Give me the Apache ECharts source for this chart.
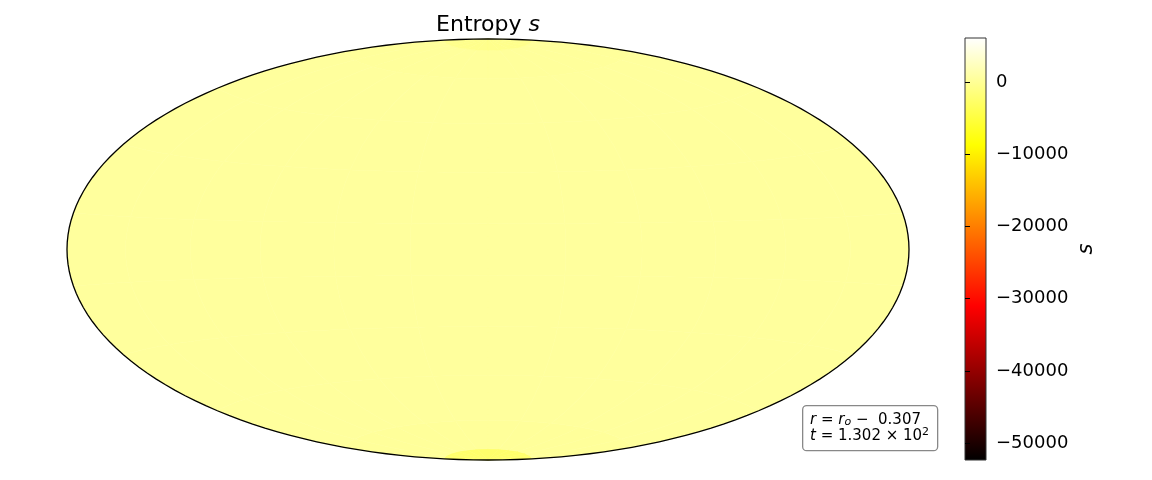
<!DOCTYPE html>
<html>
<head>
<meta charset="utf-8">
<script src="https://cdn.jsdelivr.net/npm/echarts@6/dist/echarts.min.js"></script>
<style>
html, body { margin: 0; padding: 0; background: #fff; }
#main { width: 1152px; height: 480px; }
</style>
</head>
<body>
<div id="main"></div>
<script>
// entropy field on the sphere, nearly uniform
var lonEdges = [-180, -150, -120, -90, -60, -30, 0, 30, 60, 90, 120, 150, 180];
var latEdges = [-90, -84, -70, -50, -30, -10, 10, 30, 50, 70, 84, 90];
var bandValues = [-2500, 200, 350, 350, 350, 350, 350, 350, 350, 250, -600];
var cbarMin = -52350, cbarMax = 6100;
var cbarTicks = [0, -10000, -20000, -30000, -40000, -50000];

var R2 = Math.SQRT2;
function hammer(lon, lat) {
  var l = lon * Math.PI / 180, p = lat * Math.PI / 180;
  var d = Math.sqrt(1 + Math.cos(p) * Math.cos(l / 2));
  return [2 * R2 * Math.cos(p) * Math.sin(l / 2) / d, R2 * Math.sin(p) / d];
}

// matplotlib 'hot'
function hot(t) {
  var r = Math.min(1, t / 0.365), g = Math.max(0, Math.min(1, (t - 0.365) / 0.381)),
      b = Math.max(0, Math.min(1, (t - 0.746) / 0.254));
  return 'rgb(' + Math.round(r * 255) + ',' + Math.round(g * 255) + ',' + Math.round(b * 255) + ')';
}
var hotColors = [];
for (var k = 0; k <= 40; k++) hotColors.push(hot(k / 40));

var cells = [];
for (var i = 0; i < lonEdges.length - 1; i++) {
  for (var j = 0; j < latEdges.length - 1; j++) {
    cells.push([i, j, bandValues[j]]);
  }
}

function cellPoly(api, i, j) {
  var lo0 = lonEdges[i], lo1 = lonEdges[i + 1], la0 = latEdges[j], la1 = latEdges[j + 1];
  var pts = [], n = 8, s;
  for (s = 0; s <= n; s++) pts.push(hammer(lo0 + (lo1 - lo0) * s / n, la0));
  for (s = 0; s <= n; s++) pts.push(hammer(lo1, la0 + (la1 - la0) * s / n));
  for (s = 0; s <= n; s++) pts.push(hammer(lo1 - (lo1 - lo0) * s / n, la1));
  for (s = 0; s <= n; s++) pts.push(hammer(lo0, la1 - (la1 - la0) * s / n));
  return pts.map(function (p) { return api.coord(p); });
}

var chart = echarts.init(document.getElementById('main'));
var option = {
  animation: false,
  textStyle: { fontFamily: 'DejaVu Sans' },
  title: {
    text: 'Entropy {i|s}',
    left: 483, top: 9, textAlign: 'center',
    textStyle: {
      fontSize: 22, fontWeight: 'normal', color: '#000', fontFamily: 'DejaVu Sans',
      rich: { i: { fontSize: 22, fontStyle: 'italic', fontFamily: 'DejaVu Sans' } }
    }
  },
  grid: [
    { left: 67, top: 39, width: 842, height: 421 },
    {
      left: 965, top: 38, width: 21, height: 422, show: true,
      borderColor: '#333', borderWidth: 1,
      backgroundColor: new echarts.graphic.LinearGradient(0, 0, 0, 1, [
        { offset: 0, color: '#ffffff' },
        { offset: 0.254, color: '#ffff00' },
        { offset: 0.635, color: '#ff0000' },
        { offset: 1, color: '#000000' }
      ])
    }
  ],
  xAxis: [
    { gridIndex: 0, type: 'value', min: -2 * R2, max: 2 * R2, show: false },
    { gridIndex: 1, type: 'value', min: 0, max: 1, show: false }
  ],
  yAxis: [
    { gridIndex: 0, type: 'value', min: -R2, max: R2, show: false },
    {
      gridIndex: 1, type: 'value', position: 'right', min: cbarMin, max: cbarMax,
      splitLine: { show: false },
      axisLine: { show: false },
      axisTick: { show: true, length: 5, lineStyle: { color: '#000' }, customValues: cbarTicks },
      axisLabel: {
        customValues: cbarTicks, fontSize: 18, color: '#000', margin: 10,
        formatter: function (v) { return String(v).replace('-', '\u2212'); }
      },
      name: 's', nameLocation: 'middle', nameGap: 90, nameRotate: 90,
      nameTextStyle: { fontSize: 21, fontStyle: 'italic', color: '#000', fontFamily: 'DejaVu Sans' }
    }
  ],
  visualMap: {
    show: false, type: 'continuous', seriesIndex: 0, dimension: 2,
    min: cbarMin, max: cbarMax, inRange: { color: hotColors }
  },
  series: [
    {
      type: 'custom', xAxisIndex: 0, yAxisIndex: 0, data: cells,
      renderItem: function (params, api) {
        var c = api.visual('color');
        return {
          type: 'polygon',
          shape: { points: cellPoly(api, api.value(0), api.value(1)) },
          style: { fill: c, stroke: c, lineWidth: 0.6 }
        };
      }
    },
    {
      type: 'custom', xAxisIndex: 0, yAxisIndex: 0, data: [[0]], z: 5,
      renderItem: function (params, api) {
        var pts = [], s;
        for (s = 0; s <= 90; s++) pts.push(api.coord(hammer(180, -90 + s * 2)));
        for (s = 0; s <= 90; s++) pts.push(api.coord(hammer(-180, 90 - s * 2)));
        return {
          type: 'polygon', shape: { points: pts },
          style: { fill: 'none', stroke: '#000', lineWidth: 1.3 }
        };
      }
    }
  ],
  graphic: [
    {
      type: 'rect', left: 802, top: 405,
      shape: { width: 135, height: 45, r: 4 },
      style: { fill: '#fff', stroke: '#888', lineWidth: 1.3 }, z: 10
    },
    {
      type: 'text', left: 810, top: 411, z: 11,
      style: {
        text: '{i|r} = {i|r}{sub|o} \u2212  0.307\n{i|t} = 1.302 \u00d7 10{sup|2}',
        fontSize: 15, fontFamily: 'DejaVu Sans', fill: '#000', lineHeight: 16,
        rich: {
          i: { fontStyle: 'italic', fontSize: 15, fontFamily: 'DejaVu Sans', lineHeight: 16 },
          sub: { fontStyle: 'italic', fontSize: 11, fontFamily: 'DejaVu Sans', verticalAlign: 'bottom', padding: [6, 0, 0, 0], lineHeight: 16 },
          sup: { fontSize: 11, fontFamily: 'DejaVu Sans', padding: [0, 0, 8, 0], lineHeight: 16 }
        }
      }
    }
  ]
};
chart.setOption(option);
window.addEventListener('resize', function () { chart.resize(); });
</script>
</body>
</html>
